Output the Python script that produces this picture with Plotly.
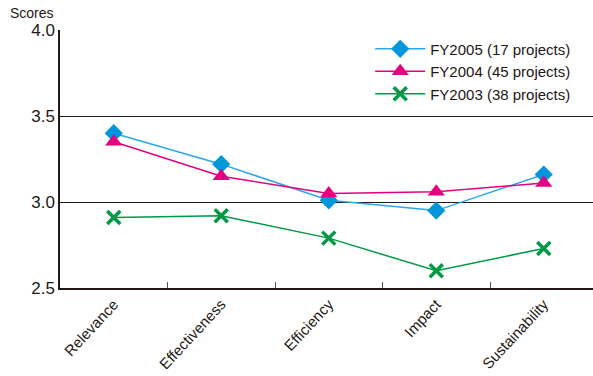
import plotly.graph_objects as go

categories = ["Relevance", "Effectiveness", "Efficiency", "Impact", "Sustainability"]
fy2005 = [3.40, 3.22, 3.01, 2.95, 3.16]
fy2004 = [3.35, 3.15, 3.05, 3.06, 3.11]
fy2003 = [2.91, 2.92, 2.79, 2.60, 2.73]
y_ticks = [2.5, 3.0, 3.5, 4.0]

fig = go.Figure()
fig.add_trace(go.Scatter(
    x=categories, y=fy2005, name="FY2005 (17 projects)", mode="lines+markers",
    line=dict(color="#29a8e8", width=1.5),
    marker=dict(symbol="diamond", size=14, color="#0096dc"),
))
fig.add_trace(go.Scatter(
    x=categories, y=fy2004, name="FY2004 (45 projects)", mode="lines+markers",
    line=dict(color="#e4007f", width=1.5),
    marker=dict(symbol="triangle-up", size=15, color="#e4007f"),
))
fig.add_trace(go.Scatter(
    x=categories, y=fy2003, name="FY2003 (38 projects)", mode="lines+markers",
    line=dict(color="#009944", width=1.5),
    marker=dict(symbol="x-thin", size=13, color="#009944",
                line=dict(color="#009944", width=3.5)),
))

fig.update_layout(
    width=593, height=376,
    margin=dict(l=60, r=0, t=30, b=88, autoexpand=False),
    paper_bgcolor="white", plot_bgcolor="white",
    font=dict(family="Liberation Sans, Arial, sans-serif", color="#231815"),
    showlegend=True,
    legend=dict(x=0.582, y=0.99, xanchor="left", yanchor="top",
                font=dict(size=15, color="#231815"), bgcolor="rgba(0,0,0,0)",
                tracegroupgap=0, itemwidth=50),
    xaxis=dict(
        type="category", range=[-0.5, 4.458], automargin=False,
        showline=True, linecolor="#231815", linewidth=1.5,
        tickson="boundaries", ticks="inside", ticklen=6, tickcolor="#555",
        tickangle=-47, tickfont=dict(size=15),
        showgrid=False, zeroline=False,
    ),
    yaxis=dict(
        range=[2.5, 4.0], tickvals=y_ticks, tickformat=".1f", automargin=False,
        showline=True, linecolor="#231815", linewidth=1.5,
        showgrid=True, gridcolor="#231815", gridwidth=1.2,
        ticks="", tickfont=dict(size=17), zeroline=False,
    ),
    annotations=[dict(text="Scores", xref="paper", yref="paper",
                      x=-0.097, y=1.0, xanchor="left", yanchor="bottom",
                      yshift=7, showarrow=False, font=dict(size=14, color="#231815"))],
)

fig.write_html("out.html", config={"displayModeBar": False},
               post_script="document.body.style.margin='0';document.body.style.overflow='hidden';")
